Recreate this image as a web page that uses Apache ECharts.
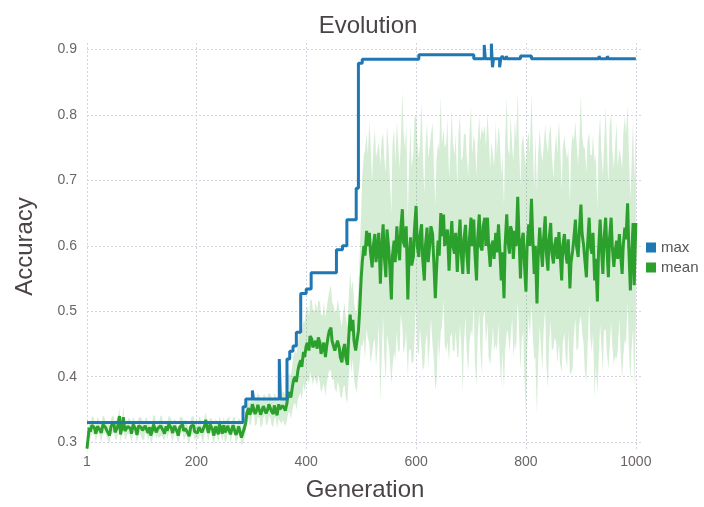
<!DOCTYPE html>
<html><head><meta charset="utf-8">
<script src="https://cdn.jsdelivr.net/npm/echarts@6/dist/echarts.min.js"></script>
<style>html,body{margin:0;padding:0;background:#fff}#c{width:704px;height:507px}</style>
</head><body><div id="c"></div><script>
// generations sampled every 5
const gens=[1,5,10,15,20,25,30,35,40,45,50,55,60,65,70,75,80,85,90,95,100,105,110,115,120,125,130,135,140,145,150,155,160,165,170,175,180,185,190,195,200,205,210,215,220,225,230,235,240,245,250,255,260,265,270,275,280,285,290,295,300,305,310,315,320,325,330,335,340,345,350,355,360,365,370,375,380,385,390,395,400,405,410,415,420,425,430,435,440,445,450,455,460,465,470,475,480,485,490,495,500,505,510,515,520,525,530,535,540,545,550,555,560,565,570,575,580,585,590,595,600,605,610,615,620,625,630,635,640,645,650,655,660,665,670,675,680,685,690,695,700,705,710,715,720,725,730,735,740,745,750,755,760,765,770,775,780,785,790,795,800,805,810,815,820,825,830,835,840,845,850,855,860,865,870,875,880,885,890,895,900,905,910,915,920,925,930,935,940,945,950,955,960,965,970,975,980,985,990,995,1000];
const meanVals=[0.29,0.322,
0.326,0.321,0.324,0.318,0.327,0.322,0.316,0.325,0.329,0.32,0.34,0.323,0.317,0.324,0.321,0.327,0.319,0.325,0.322,0.315,0.326,0.323,0.318,0.327,0.321,0.325,0.317,0.324,0.328,0.32,0.325,0.316,0.323,0.327,0.321,0.313,0.324,0.326,0.319,0.323,0.315,0.325,0.321,0.327,0.318,0.324,0.312,0.322,0.326,0.319,0.328,0.321,0.325,0.317,0.323,0.315,
0.33,0.352,0.347,0.356,0.349,0.354,0.345,0.357,0.35,0.355,0.343,0.353,0.358,0.347,0.352,0.36,
0.376,0.385,0.4,0.41,0.425,0.438,0.447,0.44,0.458,0.45,0.443,0.452,0.438,0.43,0.462,0.475,0.452,0.438,0.445,0.422,0.45,0.418,0.495,0.487,0.44,0.47,
0.55,0.6,0.623,0.62,0.567,0.618,0.598,0.542,0.633,0.552,0.598,0.518,0.608,0.63,0.578,0.656,0.598,0.518,0.613,0.583,0.661,0.583,0.633,0.547,0.628,0.603,0.618,0.52,0.608,
0.65,0.648,0.598,0.562,0.638,0.588,0.56,0.64,0.557,0.632,0.557,0.643,0.64,0.547,0.648,0.593,0.643,0.643,0.568,0.608,0.62,0.633,0.547,0.52,0.648,0.588,0.62,0.623,0.675,0.55,0.62,0.53,0.633,0.672,0.557,0.512,
0.628,0.568,0.645,0.562,0.635,0.573,0.613,0.621,0.547,0.618,0.573,0.535,0.593,0.64,0.583,0.663,0.6,0.552,0.643,0.588,0.547,0.515,0.64,0.557,0.643,0.552,0.643,0.568,0.608,0.618,0.557,0.628,0.665,0.532,0.635,0.635];
const stdVals=[0.01,0.012,
0.012,0.01,0.014,0.011,0.013,0.009,0.015,0.012,0.01,0.016,
0.012,0.011,0.013,0.01,0.014,0.012,0.009,0.013,0.015,0.011,
0.012,0.01,0.014,0.013,0.011,0.016,0.012,0.01,0.013,0.014,
0.011,0.012,0.015,0.01,0.013,0.012,0.011,0.014,0.012,0.016,
0.01,0.013,0.012,0.011,0.015,0.012,0.014,0.01,0.013,0.016,
0.012,0.011,0.014,0.013,0.012,0.015,
0.014,0.016,0.018,0.015,0.02,0.017,0.019,0.016,0.021,0.018,0.02,0.017,0.022,0.019,0.024,0.026,
0.03,0.035,0.04,0.045,0.05,0.048,0.055,0.052,0.06,0.05,0.057,0.062,0.055,0.06,0.058,0.065,0.056,0.062,0.06,0.055,0.063,0.058,0.066,0.06,0.058,0.065,
0.1,0.14,0.15,0.17,0.13,0.16,0.15,0.18,0.14,0.16,
0.15,0.13,0.17,0.16,0.14,0.18,0.15,0.12,0.17,0.16,
0.14,0.15,0.19,0.13,0.16,0.15,0.17,0.14,0.15,0.18,
0.13,0.16,0.14,0.17,0.15,0.13,0.16,0.18,0.14,0.15,
0.17,0.13,0.16,0.15,0.19,0.14,0.16,0.15,0.13,0.17,
0.15,0.16,0.14,0.18,0.15,0.13,0.17,0.16,0.14,0.15,
0.19,0.14,0.16,0.13,0.17,0.15,0.16,0.14,0.18,0.15,
0.13,0.16,0.17,0.14,0.15,0.16,0.13,0.18,0.15,0.14,
0.17,0.15,0.16,0.13,0.15,0.18,0.14,0.16,0.15,0.17,
0.14,0.16,0.15,0.18,0.13,0.16,0.17,0.15,0.14,0.16,
0.15];
// extra readings in between (generations 7, 12, ..., 997)
const midGens=[7,12,17,22,27,32,37,42,47,52,57,62,67,72,77,82,87,92,97,102,107,112,117,122,127,132,137,142,147,152,157,162,167,172,177,182,187,192,197,202,207,212,217,222,227,232,237,242,247,252,257,262,267,272,277,282,287,
292,297,302,307,312,317,322,327,332,337,342,347,352,357,362,367,372,377,382,387,392,397,402,407,412,417,422,427,432,437,442,447,452,457,462,467,472,477,482,487,492,497,
502,507,512,517,522,527,532,537,542,547,552,557,562,567,572,577,582,587,592,597,602,607,612,617,622,627,632,637,642,647,652,657,662,667,672,677,682,687,692,697,702,707,712,717,722,727,732,737,742,747,752,757,762,767,772,777,782,787,792,797,802,807,812,817,822,827,832,837,842,847,852,857,862,867,872,877,882,887,892,897,902,907,912,917,922,927,932,937,942,947,952,957,962,967,972,977,982,987,992,997];
const midMean=[0.316,0.326,0.313,0.325,0.314,0.327,0.318,0.31,0.326,0.315,
0.324,0.312,0.338,0.316,0.325,0.313,0.324,0.311,0.326,0.318,
0.325,0.314,0.31,0.327,0.315,0.318,0.325,0.313,0.317,0.326,
0.314,0.324,0.31,0.326,0.317,0.323,0.309,0.325,0.316,0.314,
0.326,0.312,0.334,0.314,0.324,0.31,0.323,0.327,0.313,0.315,
0.325,0.312,0.326,0.311,0.324,0.307,0.32,
0.345,0.342,0.358,0.343,0.357,0.342,0.355,0.344,0.358,0.347,
0.356,0.341,0.35,0.356,0.348,0.372,0.368,0.395,0.392,0.418,
0.415,0.43,0.452,0.462,0.445,0.455,0.46,0.435,0.452,0.445,
0.47,0.455,0.44,0.455,0.43,0.44,0.43,0.455,0.47,0.455,
0.437,0.497,
0.575,0.585,0.6,0.59,0.6,0.575,0.62,0.59,0.585,0.625,
0.57,0.585,0.575,0.6,0.625,0.605,0.63,0.58,0.57,0.625,
0.6,0.615,0.58,0.6,0.575,0.63,0.58,0.56,0.585,0.615,
0.6,0.625,0.6,0.6,0.62,0.6,0.59,0.61,0.59,0.61,
0.6,0.59,0.61,0.6,0.63,0.6,0.6,0.6,0.58,0.59,
0.6,0.59,0.6,0.61,0.63,0.58,0.6,0.62,0.605,0.575,
0.6,0.6,0.62,0.6,0.58,0.6,0.61,0.59,0.61,0.59,
0.6,0.58,0.59,0.6,0.59,0.61,0.575,0.61,0.6,0.62,
0.62,0.58,0.6,0.6,0.62,0.58,0.59,0.6,0.61,0.6,
0.61,0.6,0.59,0.58,0.59,0.6,0.61,0.6,0.58,0.54];
const midStd=[0.011,0.014,0.012,0.01,0.015,0.013,0.011,0.012,0.014,0.01,
0.013,0.012,0.015,0.011,0.012,0.014,0.01,0.013,0.012,0.015,
0.011,0.013,0.012,0.014,0.01,0.012,0.015,0.011,0.013,0.012,
0.014,0.01,0.012,0.013,0.015,0.011,0.012,0.014,0.013,0.01,
0.012,0.015,0.011,0.013,0.012,0.014,0.01,0.013,0.012,0.015,
0.011,0.013,0.012,0.014,0.012,0.013,0.015,
0.015,0.017,0.016,0.019,0.018,0.02,0.017,0.019,0.018,0.021,0.019,0.02,0.018,0.022,0.024,
0.028,0.033,0.038,0.043,0.047,0.05,0.053,0.056,0.055,0.058,
0.06,0.057,0.06,0.062,0.059,0.061,0.06,0.058,0.063,0.06,
0.057,0.062,0.06,0.064,0.059,0.061,0.08,
0.13,0.16,0.14,0.17,0.15,0.16,0.14,0.17,0.15,0.16,
0.14,0.17,0.15,0.16,0.13,0.17,0.16,0.14,0.15,0.17,
0.16,0.14,0.17,0.15,0.16,0.14,0.15,0.17,0.16,0.14,
0.15,0.17,0.14,0.16,0.15,0.17,0.14,0.16,0.15,0.16,
0.14,0.17,0.15,0.16,0.14,0.15,0.17,0.16,0.14,0.15,
0.17,0.15,0.16,0.14,0.17,0.15,0.16,0.14,0.15,0.17,
0.16,0.14,0.15,0.17,0.16,0.15,0.14,0.17,0.16,0.15,
0.14,0.16,0.17,0.15,0.16,0.14,0.17,0.15,0.16,0.14,
0.15,0.17,0.16,0.14,0.15,0.16,0.17,0.15,0.14,0.16,
0.17,0.15,0.16,0.14,0.15,0.17,0.16,0.15,0.14,0.16];
// best individual (step line)
const maxGens=[1,285,290,302,304,351,353,365,370,376,382,390,400,409,455,466,474,491,495,502,605,705,724,726,737,739,741,752,754,757,759,764,766,790,810,933,935,948,950,1000];
const maxVals=[0.33,0.354,0.366,0.379,0.366,0.427,0.366,0.427,0.439,0.447,0.468,0.527,0.534,0.559,0.594,0.6,0.64,0.688,0.879,0.885,0.892,0.886,0.907,0.886,0.909,0.873,0.886,0.873,0.886,0.89,0.886,0.89,0.886,0.89,0.886,0.89,0.886,0.89,0.886,0.886];
const xTicks=[1,200,400,600,800,1000];
const yTicks=[0.3,0.4,0.5,0.6,0.7,0.8,0.9];
const seriesNames=['max','mean'];
const colors=['#1f77b4','#2ca02c'];

const FONT="'Liberation Sans', Arial, sans-serif";
// merged table of mean readings, sorted by generation
const table=gens.map((g,i)=>[g,meanVals[i],stdVals[i]])
  .concat(midGens.map((g,i)=>[g,midMean[i],midStd[i]]))
  .sort((a,b)=>a[0]-b[0]);
const meanData=table.map(r=>[r[0],r[1]]);
const maxData=maxGens.map((g,i)=>[g,maxVals[i]]);

const chart=echarts.init(document.getElementById('c'),null,{renderer:'canvas'});
const gridLine={show:true,lineStyle:{color:'#d4d4e0',type:[2,2],width:1}};
chart.setOption({
  animation:false,
  textStyle:{fontFamily:FONT},
  title:{text:'Evolution',left:363,top:9,textAlign:'center',textStyle:{fontFamily:FONT,fontSize:24,fontWeight:'normal',color:'#4a4448'}},
  legend:{data:seriesNames,orient:'vertical',left:641,top:235,itemWidth:10,itemHeight:10,itemGap:5,icon:'rect',
    textStyle:{fontFamily:FONT,fontSize:15,color:'#555'}},
  grid:{left:87,right:61,top:43,bottom:52,containLabel:false},
  xAxis:{type:'value',min:1,max:1013,name:'Generation',nameLocation:'middle',nameGap:28,
    nameTextStyle:{fontFamily:FONT,fontSize:24,color:'#4a4448'},
    axisLine:{show:false},axisTick:{show:false,customValues:xTicks},
    axisLabel:{customValues:xTicks,fontFamily:FONT,fontSize:14,color:'#6a6468',margin:5,formatter:v=>String(v)},
    splitLine:gridLine},
  yAxis:{type:'value',min:0.288,max:0.91,name:'Accuracy',nameLocation:'middle',nameGap:50,
    nameTextStyle:{fontFamily:FONT,fontSize:24,color:'#4a4448'},
    axisLine:{show:false},axisTick:{show:false,customValues:yTicks},
    axisLabel:{customValues:yTicks,fontFamily:FONT,fontSize:14,color:'#6a6468',margin:10,formatter:v=>v.toFixed(1)},
    splitLine:gridLine},
  series:[
    {name:'std',type:'custom',silent:true,z:1,data:[[table[0][0],table[0][1]]],
      renderItem:(params,api)=>{
        if(params.dataIndex!==0) return null;
        const pts=[];
        for(let i=0;i<table.length;i++) pts.push(api.coord([table[i][0],table[i][1]+table[i][2]]));
        for(let i=table.length-1;i>=0;i--) pts.push(api.coord([table[i][0],table[i][1]-table[i][2]]));
        return {type:'polygon',shape:{points:pts},style:{fill:'rgba(44,160,44,0.2)'}};
      }},
    {name:'mean',type:'line',data:meanData,symbol:'none',color:colors[1],lineStyle:{color:colors[1],width:3},z:2},
    {name:'max',type:'line',data:maxData,step:'end',symbol:'none',color:colors[0],lineStyle:{color:colors[0],width:3},z:3}
  ]
});
</script></body></html>
